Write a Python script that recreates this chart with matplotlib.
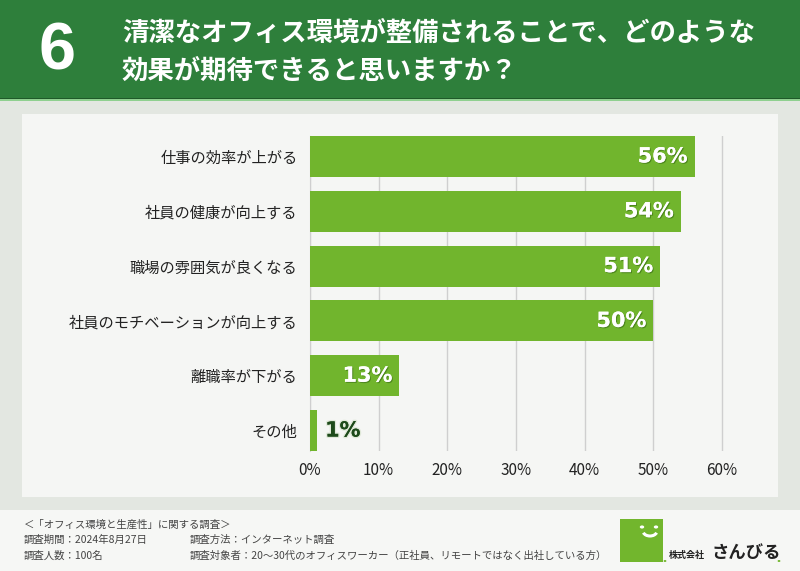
import numpy as np
import matplotlib.pyplot as plt
from matplotlib.patches import Rectangle, Circle, Arc
import matplotlib.patheffects as pe

plt.rcParams['font.family'] = ['Noto Sans CJK JP', 'DejaVu Sans']

# data
categories = ['仕事の効率が上がる', '社員の健康が向上する', '職場の雰囲気が良くなる',
              '社員のモチベーションが向上する', '離職率が下がる', 'その他']
values = [56, 54, 51, 50, 13, 1]
ticks = [0, 10, 20, 30, 40, 50, 60]
tick_labels = [f'{t}%' for t in ticks]

W, H = 800, 571
fig = plt.figure(figsize=(W / 100, H / 100), dpi=100)
fig.patch.set_facecolor('#e3e7e1')


def px(x, y):
    # pixel coords (top-left origin) -> figure fraction
    return x / W, 1 - y / H


def rect(x0, y0, x1, y1, color, z=-5):
    fig.patches.append(Rectangle(px(x0, y1), (x1 - x0) / W, (y1 - y0) / H,
                                 transform=fig.transFigure, facecolor=color,
                                 edgecolor='none', zorder=z))


# header
rect(0, 0, W, 98, '#2e7f3b')
rect(0, 98, W, 99, '#1f5a29')
rect(0, 99, W, 101, '#8fd08f')
# chart panel
rect(22, 114, 778, 497, '#f5f6f4')
# footer
rect(0, 510, W, H, '#f6f7f5')

fig.text(*px(57, 52), '6', color='white', fontsize=48, fontweight='bold',
         ha='center', va='center', family='Liberation Sans')
fig.text(*px(122, 33), '清潔なオフィス環境が整備されることで、どのような',
         color='white', fontsize=19, fontweight='bold', va='center')
fig.text(*px(122, 71), '効果が期待できると思いますか？',
         color='white', fontsize=19, fontweight='bold', va='center')

# bar chart
x0, y0 = px(310, 451)
x1, y1 = px(724, 136)
ax = fig.add_axes([x0, y0, x1 - x0, y1 - y0], zorder=2)
ax.set_facecolor('none')
pos = np.arange(len(categories))
bh = 41 / 55
ax.barh(pos, values, height=bh, color='#71b52d', zorder=3)
ax.set_xlim(0, 60 * 414 / 412)
ax.set_ylim(len(categories) - 1 + bh / 2, -bh / 2)
ax.set_xticks(ticks)
ax.set_xticklabels(tick_labels, fontsize=11, color='#222222')
ax.set_yticks(pos)
ax.set_yticklabels(categories, fontsize=11, color='#222222')
ax.tick_params(axis='y', length=0, pad=9)
ax.tick_params(axis='x', length=0, pad=8)
ax.grid(axis='x', color='#cfcfcf', linewidth=1, zorder=0)
for s in ['top', 'right', 'bottom']:
    ax.spines[s].set_visible(False)
ax.spines['left'].set_color('#cfcfcf')

shadow = [pe.withSimplePatchShadow(offset=(0.8, -0.8), shadow_rgbFace='#2a5a10', alpha=0.5),
          pe.Normal()]
glow = [pe.withStroke(linewidth=2, foreground='#dfe8d8'), pe.Normal()]
for p, v in zip(pos, values):
    if v >= 10:
        ax.text(v - 1.0, p, f'{v}%', color='white', fontsize=15, fontweight='bold',
                ha='right', va='center', zorder=4, family='DejaVu Sans', path_effects=shadow)
    else:
        ax.text(v + 1.2, p, f'{v}%', color='#1d4a1a', fontsize=15, fontweight='bold',
                ha='left', va='center', zorder=4, family='DejaVu Sans', path_effects=glow)

# footer texts
fc = '#444444'
fs = 7.5
fig.text(*px(24, 525), '＜「オフィス環境と生産性」に関する調査＞', fontsize=fs, color=fc, va='center')
fig.text(*px(24, 540), '調査期間：2024年8月27日', fontsize=fs, color=fc, va='center')
fig.text(*px(24, 556), '調査人数：100名', fontsize=fs, color=fc, va='center')
fig.text(*px(190, 540), '調査方法：インターネット調査', fontsize=fs, color=fc, va='center')
fig.text(*px(190, 556), '調査対象者：20～30代のオフィスワーカー（正社員、リモートではなく出社している方）',
         fontsize=fs, color=fc, va='center')

# logo
rect(620, 519, 663, 562, '#72b62d', z=2)
for cx in (642, 656):
    fig.patches.append(Circle(px(cx, 527), 2.2 / W, transform=fig.transFigure,
                              facecolor='white', zorder=3))
cxa, cya = px(650, 531)
fig.patches.append(Arc((cxa, cya), 14 / W, 10 / H, theta1=200, theta2=340,
                       transform=fig.transFigure, color='white', linewidth=2.2, zorder=3))
for dx in (665, 779):
    fig.patches.append(Circle(px(dx, 561), 1.4 / W, transform=fig.transFigure,
                              facecolor='#72b62d', zorder=3))
fig.text(*px(669, 555), '株式会社', fontsize=6.5, fontweight='bold', color='#222222', va='center')
fig.text(*px(711, 553), 'さんびる', fontsize=12.5, fontweight='bold', color='#222222', va='center')

fig.savefig('out.png', dpi=100, facecolor=fig.get_facecolor())
